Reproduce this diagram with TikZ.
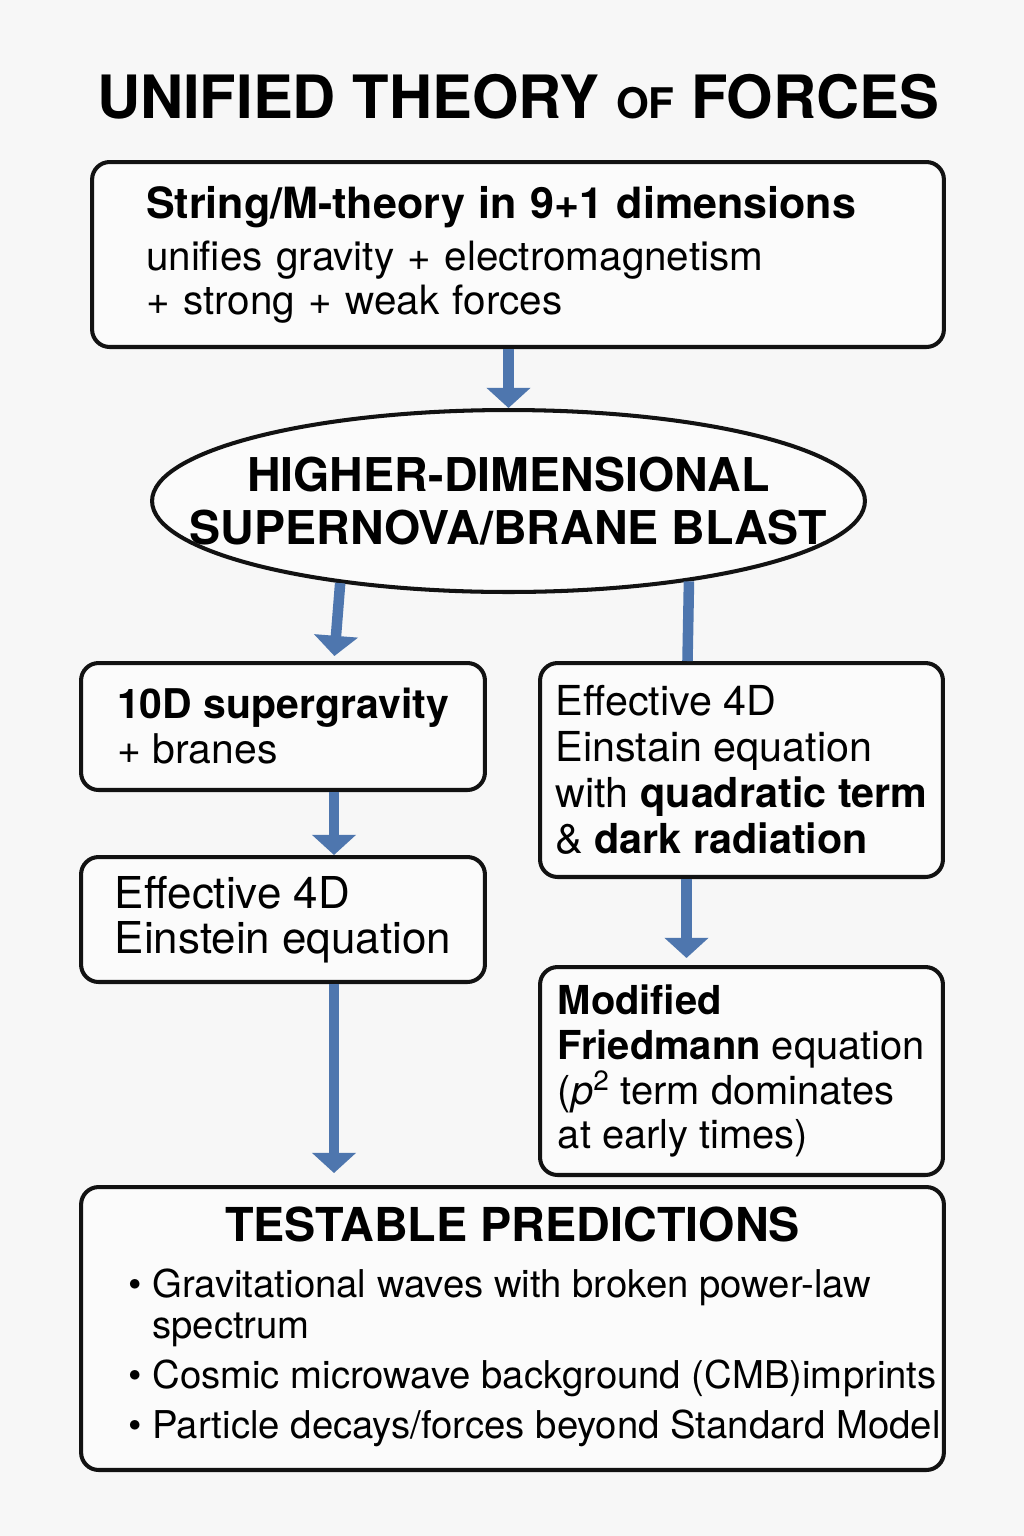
\documentclass[tikz,border=0pt]{standalone}
\usepackage{fontspec}
\setmainfont{TeX Gyre Heros}
\definecolor{ink}{HTML}{121212}
\definecolor{flow}{HTML}{4E76AE}
\definecolor{paper}{HTML}{F7F7F7}
\usetikzlibrary{arrows.meta,shapes.geometric,positioning,calc}
\tikzset{
  node_box/.style={draw=ink,line width=2.3pt,rounded corners=10pt,fill=white!50!paper,
    align=left,font=\fontsize{23.5}{25.6}\selectfont},
  node_blast/.style={ellipse,draw=ink,line width=2.3pt,fill=white!50!paper,inner sep=0pt,
    align=center,font=\fontsize{26.5}{30.5}\selectfont\bfseries},
  arr/.style={-{Triangle[width=24.5pt,length=11.5pt]},draw=flow,line width=6pt},
  arr_line/.style={draw=flow,line width=6pt},
}

\begin{document}
\begin{tikzpicture}[x=0.02cm,y=-0.02cm]

  \fill[paper] (0,0) rectangle (1024,1536);

  \node[font=\fontsize{34}{40}\selectfont\bfseries] (title) at (518,97)
    {UNIFIED THEORY {\fontsize{24}{28}\selectfont OF} FORCES};

  \node[node_box,text width=14.88cm,inner xsep=1.08cm,minimum height=3.7cm,
    font=\fontsize{23}{24.5}\selectfont] (string) at (518,254.5)
    {{\fontsize{24.5}{28}\selectfont\bfseries String/M-theory in 9+1 dimensions}\\[5.5pt]
     unifies gravity + electromagnetism\\
     + strong + weak forces};
  \node[node_blast,minimum width=14.26cm,minimum height=3.64cm] (blast) at (508.5,501)
    {\makebox[0pt]{HIGHER-DIMENSIONAL}\\\makebox[0pt]{SUPERNOVA/BRANE BLAST}};

  \node[node_box,minimum width=8.08cm,minimum height=2.54cm,
    font=\fontsize{23.3}{25.6}\selectfont] (sugra) at (283,726.5)
    {\textbf{10D supergravity}\\+ branes};
  \node[node_box,minimum width=8.08cm,minimum height=2.5cm,
    font=\fontsize{25}{25.6}\selectfont] (einst) at (283,919.5)
    {Effective 4D\\Einstein equation};
  \node[node_box,minimum width=8.06cm,minimum height=4.28cm,
    font=\fontsize{23.5}{26.2}\selectfont] (quad) at (741.5,770)
    {Effective 4D\\Einstain equation\\with \textbf{quadratic term}\\\& \textbf{dark radiation}};
  \node[node_box,minimum width=8.06cm,minimum height=4.16cm,
    font=\fontsize{22.7}{25.6}\selectfont] (fried) at (741.5,1071)
    {\textbf{Modified}\\\textbf{Friedmann} equation\\(\textit{p}\textsuperscript{2} term dominates\\at early times)};

  \node[node_box,minimum width=17.26cm,minimum height=5.66cm,inner sep=0pt,
    font=\fontsize{21.8}{23.3}\selectfont] (pred) at (512.5,1328.5)
    {\begin{tabular}{@{\hspace{0.88cm}}l@{}}
     \multicolumn{1}{@{}c@{}}{\fontsize{26.6}{30}\selectfont\bfseries TESTABLE PREDICTIONS}\\[9pt]
     \textbullet\ Gravitational waves with broken power-law\\
     \hphantom{\textbullet\ }spectrum\\[5pt]
     \textbullet\ Cosmic microwave background (CMB)imprints\\[5pt]
     \textbullet\ Particle decays/forces beyond Standard Model
     \end{tabular}};

  \draw[arr] (string.south -| blast.north) -- (blast.north);
  \draw[arr,shorten >=0.1cm] (blast.-154.6) -- ($(sugra.north)+(51,0)$);
  \draw[arr_line] (blast.-24.4) -- ($(quad.north)+(-54,0)$);
  \draw[arr] ($(sugra.south)+(51,0)$) -- ($(einst.north)+(51,0)$);
  \draw[arr,shorten >=0.24cm] ($(einst.south)+(51,0)$) -- ($(pred.north -| einst.south)+(51,0)$);
  \draw[arr,shorten >=0.14cm] ($(quad.south)+(-55,0)$) -- ($(fried.north)+(-55,0)$);
\end{tikzpicture}
\end{document}
